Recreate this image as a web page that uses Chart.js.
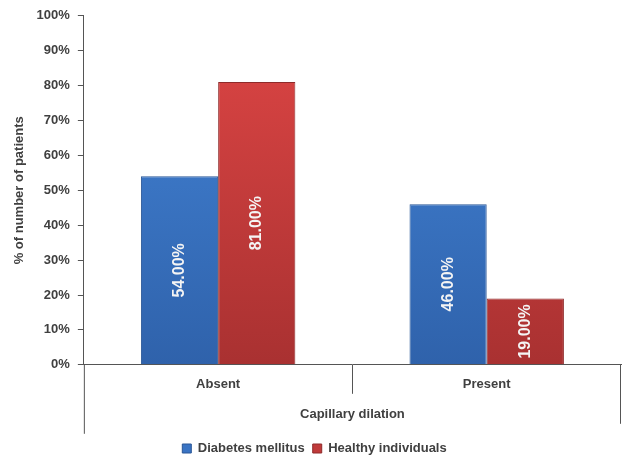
<!DOCTYPE html>
<html>
<head>
<meta charset="utf-8">
<script src="https://cdn.jsdelivr.net/npm/chart.js@4"></script>
<style>
    html, body { margin: 0; padding: 0; background: #fff; }
    #wrap { width: 625px; height: 456px; }
</style>
</head>
<body>
<div id="wrap"><canvas id="capChart"></canvas></div>
<script>
// Chart data
const categories = ['Absent', 'Present'];
const diabetesValues = [54, 46];
const healthyValues = [81, 19];
const yTicks = [0, 10, 20, 30, 40, 50, 60, 70, 80, 90, 100];

const FONT = "'Liberation Sans', Arial, sans-serif";
const TEXT = '#404040';

// vertical gradient for the bevelled bar look
function barFill(top, bottom) {
    return function (ctx) {
        const area = ctx.chart.chartArea;
        if (!area) return top;
        const g = ctx.chart.ctx.createLinearGradient(0, area.top, 0, area.bottom);
        g.addColorStop(0, top);
        g.addColorStop(1, bottom);
        return g;
    };
}

// value labels rotated inside the bars
const barLabels = {
    id: 'barLabels',
    afterDatasetsDraw(chart) {
        const c = chart.ctx;
        chart.data.datasets.forEach((ds, i) => {
            chart.getDatasetMeta(i).data.forEach((bar, j) => {
                const mid = (bar.y + bar.base) / 2;
                c.save();
                c.translate(bar.x, mid);
                c.rotate(-Math.PI / 2);
                c.fillStyle = '#f4f4f4';
                c.font = 'bold 16px ' + FONT;
                c.textAlign = 'center';
                c.textBaseline = 'middle';
                c.fillText(ds.data[j].toFixed(2) + '%', 0, 0);
                c.restore();
            });
        });
    }
};

// category separators under the x axis
const separators = {
    id: 'separators',
    afterDraw(chart) {
        const c = chart.ctx;
        const a = chart.chartArea;
        const step = (a.right - a.left) / categories.length;
        c.save();
        c.strokeStyle = '#555';
        c.lineWidth = 1;
        c.beginPath();
        // outer lines reach past the axis title
        c.moveTo(a.left + 0.5, a.bottom);
        c.lineTo(a.left + 0.5, a.bottom + 69);
        c.moveTo(a.right - 0.5, a.bottom);
        c.lineTo(a.right - 0.5, a.bottom + 59);
        for (let k = 1; k < categories.length; k++) {
            const px = Math.round(a.left + step * k) + 0.5;
            c.moveTo(px, a.bottom);
            c.lineTo(px, a.bottom + 29);
        }
        c.stroke();
        c.restore();
    }
};

new Chart(document.getElementById('capChart'), {
    type: 'bar',
    data: {
        labels: categories,
        datasets: [{
            label: 'Diabetes mellitus',
            data: diabetesValues,
            backgroundColor: barFill('#4485d8', '#2f62ab'),
            borderColor: '#2a5797',
            borderWidth: 1,
            categoryPercentage: 0.575,
            barPercentage: 1
        }, {
            label: 'Healthy individuals',
            data: healthyValues,
            backgroundColor: barFill('#de4645', '#a93131'),
            borderColor: '#8f2a2a',
            borderWidth: 1,
            categoryPercentage: 0.575,
            barPercentage: 1
        }]
    },
    options: {
        responsive: true,
        maintainAspectRatio: false,
        animation: false,
        layout: { padding: { top: 14, right: 4, left: 8, bottom: -9 } },
        plugins: {
            legend: {
                position: 'bottom',
                labels: {
                    boxWidth: 9,
                    boxHeight: 9,
                    padding: 8,
                    color: TEXT,
                    font: { family: FONT, size: 13, weight: 'bold' },
                    generateLabels(chart) {
                        const cols = ['#3a74c4', '#c03a3a'];
                        return chart.data.datasets.map((ds, i) => ({
                            text: ds.label,
                            fillStyle: cols[i],
                            strokeStyle: i ? '#8f2a2a' : '#2a5797',
                            lineWidth: 1,
                            fontColor: TEXT,
                            datasetIndex: i
                        }));
                    }
                }
            },
            tooltip: { enabled: false }
        },
        scales: {
            x: {
                grid: { display: false, drawTicks: false },
                border: { color: '#555', width: 1 },
                ticks: {
                    padding: 12,
                    color: TEXT,
                    font: { family: FONT, size: 13, weight: 'bold' }
                },
                title: {
                    display: true,
                    text: 'Capillary dilation',
                    color: TEXT,
                    padding: { top: 2, bottom: 12 },
                    font: { family: FONT, size: 13, weight: 'bold' }
                }
            },
            y: {
                min: 0,
                max: 100,
                afterBuildTicks(axis) {
                    axis.ticks = yTicks.map(v => ({ value: v }));
                },
                grid: { drawOnChartArea: false, tickLength: 6, color: '#555' },
                border: { color: '#555', width: 1 },
                ticks: {
                    padding: 8,
                    color: TEXT,
                    font: { family: FONT, size: 13, weight: 'bold' },
                    callback: v => v + '%'
                },
                title: {
                    display: true,
                    text: '% of number of patients',
                    color: TEXT,
                    padding: { bottom: 1 },
                    font: { family: FONT, size: 13, weight: 'bold' }
                }
            }
        }
    },
    plugins: [barLabels, separators]
});
</script>
</body>
</html>
